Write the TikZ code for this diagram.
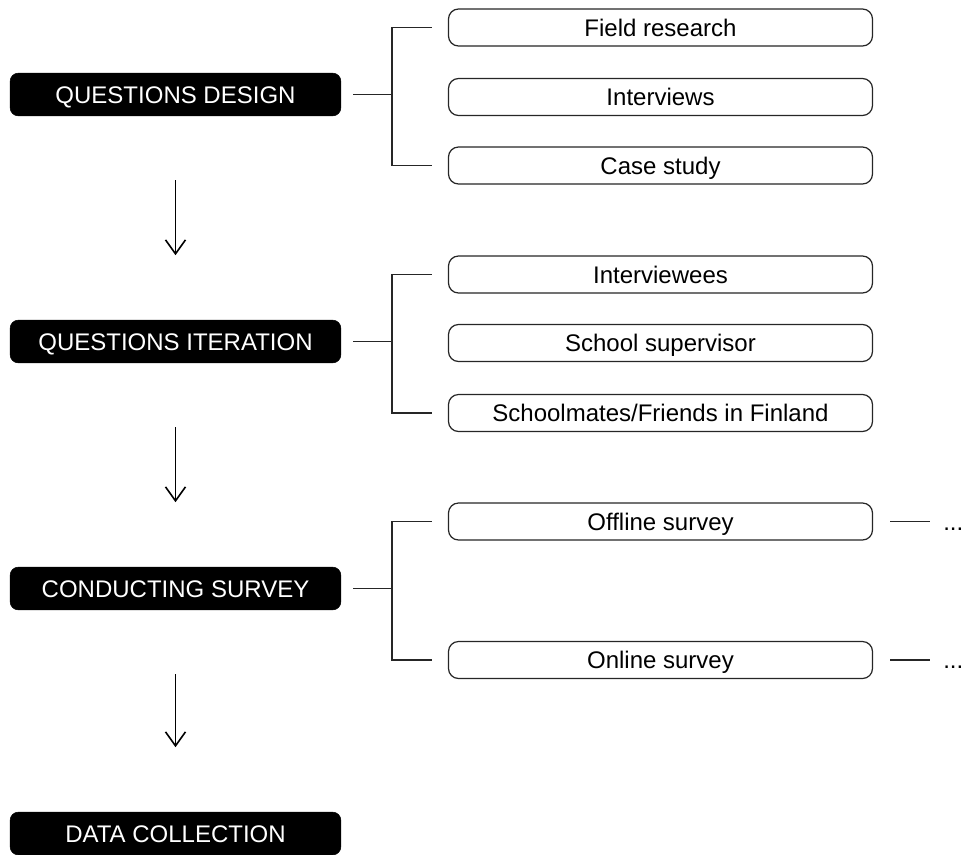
\documentclass[tikz,border=0pt]{standalone}
\usepackage{fontspec}
\setmainfont{Liberation Sans}
\usetikzlibrary{arrows.meta}

\tikzset{
  stage/.style={fill=black, draw=black, text=white, rounded corners=6pt,
    minimum width=248pt, minimum height=32pt, inner sep=0pt,
    text height=12.9pt, text depth=0pt,
    font=\fontsize{18}{21.6}\selectfont},
  item/.style={draw=black!85, line width=0.9pt, fill=white, rounded corners=7.5pt,
    minimum width=318pt, minimum height=27.75pt, inner sep=0pt,
    text height=12.9pt, text depth=0pt,
    font=\fontsize{18}{21.6}\selectfont},
  link/.style={draw=black!85, line width=0.95pt},
  flow/.style={draw=black, line width=1.4pt,
    -{Straight Barb[length=10.5pt, width=15pt, line width=1.2pt]}},
  more/.style={inner sep=0pt, font=\fontsize{18}{21.6}\selectfont}
}

\begin{document}
\begin{tikzpicture}[x=0.75pt, y=-0.75pt]
  \useasboundingbox (0,0) rectangle (964,854);

  % main stages
  \node[stage] (s1) at (175.5,94.5)  {QUESTIONS DESIGN};
  \node[stage] (s2) at (175.5,341.5) {QUESTIONS ITERATION};
  \node[stage] (s3) at (175.5,588.5) {CONDUCTING SURVEY};
  \node[stage] (s4) at (175.5,833.5) {DATA COLLECTION};

  % branch points of the brackets
  \coordinate (j1) at (392,94.5);
  \coordinate (j2) at (392,341.5);
  \coordinate (j3) at (392,588.5);

  % sources for the question design
  \node[item] (a1) at (660.5,27.5)  {Field research};
  \node[item] (a2) at (660.5,97)    {Interviews};
  \node[item] (a3) at (660.5,165.5) {Case study};

  % reviewers of the questions
  \node[item] (b1) at (660.5,274.5) {Interviewees};
  \node[item] (b2) at (660.5,343)   {School supervisor};
  \node[item] (b3) at (660.5,413)   {Schoolmates/Friends in Finland};

  % survey channels
  \node[item] (c1) at (660.5,521.5) {Offline survey};
  \node[item] (c2) at (660.5,660)   {Online survey};

  \node[more, anchor=base west] (d1) at (943,530) {...};
  \node[more, anchor=base west] (d2) at (943,668) {...};

  % stubs from the stages to the brackets
  \draw[link, shorten <=9pt] (s1.east) -- (j1);
  \draw[link, shorten <=9pt] (s2.east) -- (j2);
  \draw[link, shorten <=9pt] (s3.east) -- (j3);

  % brackets
  \draw[link, shorten <=12pt, shorten >=12pt] (a1.west) -| (j1) |- (a3.west);
  \draw[link, shorten <=12pt, shorten >=12pt] (b1.west) -| (j2) |- (b3.west);
  \draw[link, shorten <=12pt, shorten >=12pt] (c1.west) -| (j3) |- (c2.west);

  % continuation lines
  \draw[link, shorten <=13pt, shorten >=10pt] (c1.east) -- (c1.east -| d1.west);
  \draw[link, shorten <=13pt, shorten >=10pt] (c2.east) -- (c2.east -| d2.west);

  % flow between the stages
  \draw[flow, shorten <=48pt, shorten >=48.5pt] (s1.south) -- (s2.north);
  \draw[flow, shorten <=48pt, shorten >=48.5pt] (s2.south) -- (s3.north);
  \draw[flow, shorten <=48pt, shorten >=48.5pt] (s3.south) -- (s4.north);
\end{tikzpicture}
\end{document}
